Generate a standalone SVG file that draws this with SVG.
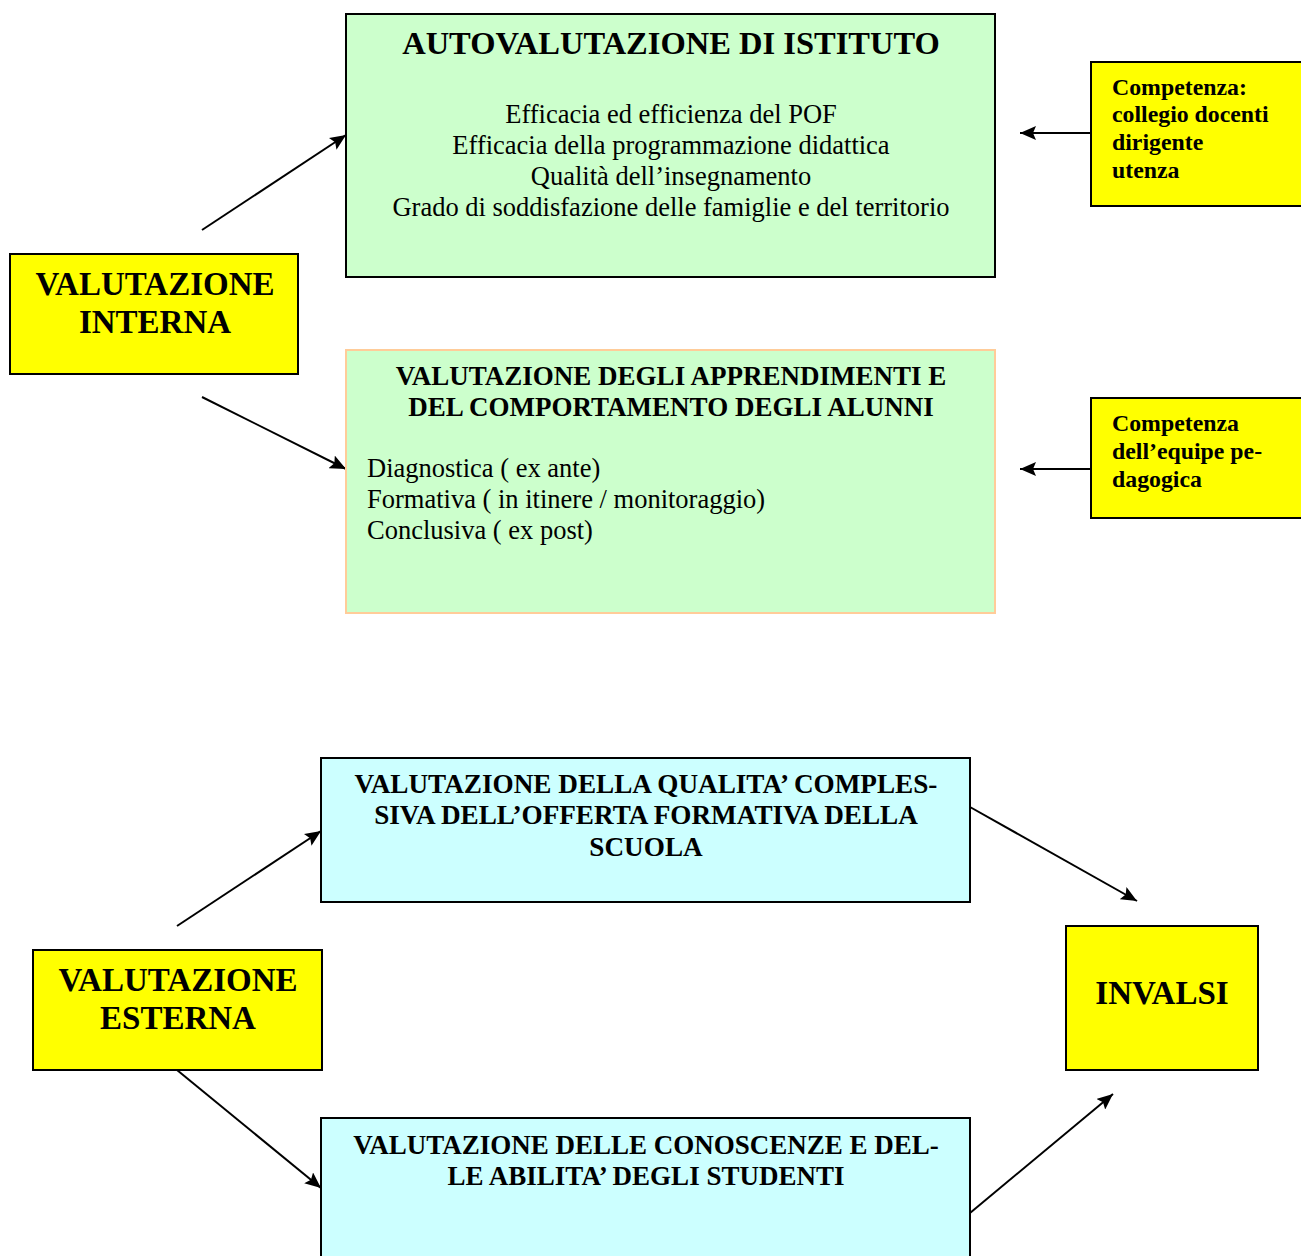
<svg xmlns="http://www.w3.org/2000/svg" width="1301" height="1256" viewBox="0 0 1301 1256">
<defs>
<marker id="ah" viewBox="0 0 16 14" refX="16" refY="7" markerWidth="16" markerHeight="14" markerUnits="userSpaceOnUse" orient="auto">
<path d="M0,0 L16,7 L0,14 L3,7 z" fill="#000"/>
</marker>
<style>
text{font-family:"Liberation Serif","Times New Roman",serif;fill:#000}
.b{font-weight:bold}
.y{fill:#FFFF00;stroke:#000;stroke-width:2}
.g{fill:#CCFFCC;stroke:#000;stroke-width:2}
.c{fill:#CCFFFF;stroke:#000;stroke-width:2}
.con{stroke:#000;stroke-width:2;fill:none;marker-end:url(#ah)}
</style>
</defs>
<rect width="1301" height="1256" fill="#fff"/>
<g id="connectors">
<line class="con" x1="202" y1="230" x2="346" y2="135"/>
<line class="con" x1="202" y1="397" x2="346" y2="469"/>
<line class="con" x1="1091" y1="133" x2="1020" y2="133"/>
<line class="con" x1="1091" y1="469" x2="1020" y2="469"/>
<line class="con" x1="177" y1="926" x2="321" y2="831"/>
<line class="con" x1="177" y1="1070" x2="321" y2="1188"/>
<line class="con" x1="970" y1="807" x2="1137" y2="901"/>
<line class="con" x1="970" y1="1213" x2="1113" y2="1094"/>
</g>
<g id="autovalutazione">
<rect class="g" x="346" y="14" width="649" height="263"/>
<text class="b" x="671" y="54" font-size="32.5" text-anchor="middle">AUTOVALUTAZIONE DI ISTITUTO</text>
<text x="671" y="123" font-size="26.5" text-anchor="middle">Efficacia ed efficienza del POF</text>
<text x="671" y="154" font-size="26.5" text-anchor="middle">Efficacia della programmazione didattica</text>
<text x="671" y="185" font-size="26.5" text-anchor="middle">Qualità dell’insegnamento</text>
<text x="671" y="216" font-size="26.5" text-anchor="middle">Grado di soddisfazione delle famiglie e del territorio</text>
</g>
<g id="apprendimenti">
<rect x="346" y="350" width="649" height="263" fill="#CCFFCC" stroke="#FFCC99" stroke-width="2"/>
<text class="b" x="671" y="385" font-size="27" text-anchor="middle">VALUTAZIONE DEGLI APPRENDIMENTI E</text>
<text class="b" x="671" y="416" font-size="27" text-anchor="middle">DEL COMPORTAMENTO DEGLI ALUNNI</text>
<text x="367" y="477" font-size="26.5">Diagnostica ( ex ante)</text>
<text x="367" y="508" font-size="26.5">Formativa ( in itinere / monitoraggio)</text>
<text x="367" y="539" font-size="26.5">Conclusiva ( ex post)</text>
</g>
<g id="interna">
<rect class="y" x="10" y="254" width="288" height="120"/>
<text class="b" x="155" y="295" font-size="33" text-anchor="middle">VALUTAZIONE</text>
<text class="b" x="155" y="333" font-size="33" text-anchor="middle">INTERNA</text>
</g>
<g id="competenza1">
<rect class="y" x="1091" y="62" width="215" height="144"/>
<text class="b" x="1112" y="95" font-size="23.8">Competenza:</text>
<text class="b" x="1112" y="122" font-size="23.8">collegio docenti</text>
<text class="b" x="1112" y="150" font-size="23.8">dirigente</text>
<text class="b" x="1112" y="178" font-size="23.8">utenza</text>
</g>
<g id="competenza2">
<rect class="y" x="1091" y="398" width="215" height="120"/>
<text class="b" x="1112" y="431" font-size="23.8">Competenza</text>
<text class="b" x="1112" y="459" font-size="23.8">dell’equipe pe-</text>
<text class="b" x="1112" y="487" font-size="23.8">dagogica</text>
</g>
<g id="qualita">
<rect class="c" x="321" y="758" width="649" height="144"/>
<text class="b" x="646" y="793" font-size="27.2" text-anchor="middle">VALUTAZIONE DELLA QUALITA’ COMPLES-</text>
<text class="b" x="646" y="824" font-size="27.2" text-anchor="middle">SIVA DELL’OFFERTA FORMATIVA DELLA</text>
<text class="b" x="646" y="856" font-size="27.2" text-anchor="middle">SCUOLA</text>
</g>
<g id="esterna">
<rect class="y" x="33" y="950" width="289" height="120"/>
<text class="b" x="178" y="991" font-size="33" text-anchor="middle">VALUTAZIONE</text>
<text class="b" x="178" y="1029" font-size="33" text-anchor="middle">ESTERNA</text>
</g>
<g id="invalsi">
<rect class="y" x="1066" y="926" width="192" height="144"/>
<text class="b" x="1162" y="1004" font-size="33" text-anchor="middle">INVALSI</text>
</g>
<g id="conoscenze">
<rect class="c" x="321" y="1118" width="649" height="150"/>
<text class="b" x="646" y="1154" font-size="27" text-anchor="middle">VALUTAZIONE DELLE CONOSCENZE E DEL-</text>
<text class="b" x="646" y="1185" font-size="27" text-anchor="middle">LE ABILITA’ DEGLI STUDENTI</text>
</g>
</svg>
